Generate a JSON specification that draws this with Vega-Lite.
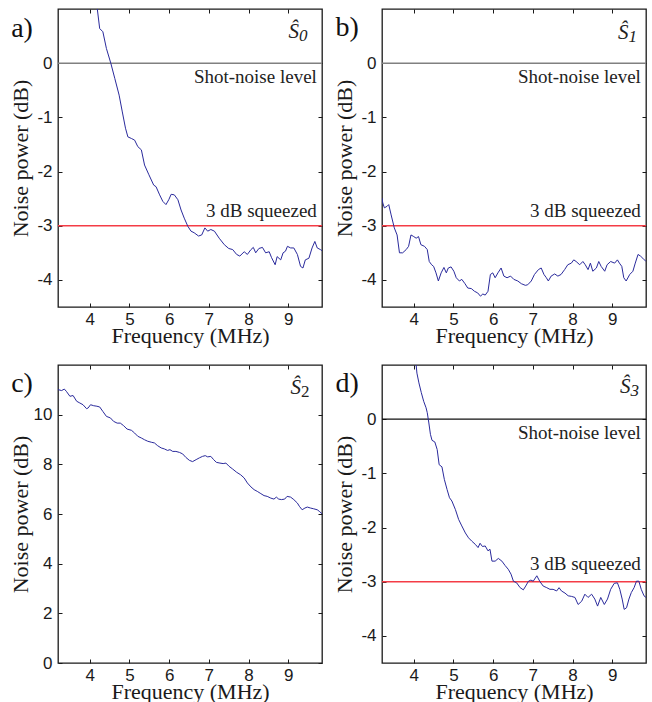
{
"$schema": "https://vega.github.io/schema/vega-lite/v6.json",
"padding": {"left": 8, "top": 7, "right": 3, "bottom": 0},
"background": "white",
"datasets": {
"a": [{"f":4.19,"v":1.0},{"f":4.25,"v":0.64},{"f":4.33,"v":0.58},{"f":4.42,"v":0.27},{"f":4.53,"v":0.0},{"f":4.63,"v":-0.28},{"f":4.74,"v":-0.59},{"f":4.82,"v":-0.9},{"f":4.9,"v":-1.2},{"f":4.96,"v":-1.36},{"f":5.05,"v":-1.39},{"f":5.13,"v":-1.42},{"f":5.21,"v":-1.54},{"f":5.3,"v":-1.6},{"f":5.38,"v":-1.88},{"f":5.49,"v":-2.06},{"f":5.61,"v":-2.25},{"f":5.67,"v":-2.28},{"f":5.76,"v":-2.43},{"f":5.84,"v":-2.55},{"f":5.92,"v":-2.61},{"f":5.99,"v":-2.52},{"f":6.05,"v":-2.42},{"f":6.13,"v":-2.43},{"f":6.22,"v":-2.52},{"f":6.3,"v":-2.71},{"f":6.38,"v":-2.86},{"f":6.47,"v":-3.01},{"f":6.55,"v":-3.1},{"f":6.63,"v":-3.13},{"f":6.74,"v":-3.19},{"f":6.82,"v":-3.17},{"f":6.9,"v":-3.04},{"f":6.97,"v":-3.1},{"f":7.05,"v":-3.07},{"f":7.14,"v":-3.1},{"f":7.26,"v":-3.23},{"f":7.39,"v":-3.35},{"f":7.5,"v":-3.42},{"f":7.6,"v":-3.44},{"f":7.7,"v":-3.53},{"f":7.78,"v":-3.56},{"f":7.89,"v":-3.48},{"f":7.97,"v":-3.53},{"f":8.06,"v":-3.44},{"f":8.12,"v":-3.4},{"f":8.18,"v":-3.5},{"f":8.26,"v":-3.42},{"f":8.35,"v":-3.4},{"f":8.43,"v":-3.5},{"f":8.52,"v":-3.48},{"f":8.58,"v":-3.59},{"f":8.67,"v":-3.72},{"f":8.72,"v":-3.57},{"f":8.81,"v":-3.63},{"f":8.87,"v":-3.5},{"f":8.93,"v":-3.47},{"f":8.98,"v":-3.38},{"f":9.06,"v":-3.41},{"f":9.14,"v":-3.41},{"f":9.23,"v":-3.53},{"f":9.31,"v":-3.75},{"f":9.37,"v":-3.78},{"f":9.43,"v":-3.63},{"f":9.52,"v":-3.6},{"f":9.6,"v":-3.41},{"f":9.67,"v":-3.29},{"f":9.73,"v":-3.41},{"f":9.81,"v":-3.44},{"f":9.85,"v":-3.46}],
"b": [{"f":3.2,"v":-2.49},{"f":3.22,"v":-2.58},{"f":3.26,"v":-2.67},{"f":3.33,"v":-2.64},{"f":3.37,"v":-2.61},{"f":3.43,"v":-2.8},{"f":3.51,"v":-3.04},{"f":3.58,"v":-3.17},{"f":3.64,"v":-3.5},{"f":3.72,"v":-3.5},{"f":3.81,"v":-3.44},{"f":3.87,"v":-3.38},{"f":3.93,"v":-3.17},{"f":4.0,"v":-3.2},{"f":4.06,"v":-3.23},{"f":4.12,"v":-3.2},{"f":4.18,"v":-3.35},{"f":4.27,"v":-3.38},{"f":4.34,"v":-3.44},{"f":4.39,"v":-3.66},{"f":4.45,"v":-3.72},{"f":4.5,"v":-3.75},{"f":4.56,"v":-3.87},{"f":4.62,"v":-4.02},{"f":4.69,"v":-3.87},{"f":4.76,"v":-3.77},{"f":4.82,"v":-3.87},{"f":4.87,"v":-3.78},{"f":4.94,"v":-3.76},{"f":5.01,"v":-3.84},{"f":5.07,"v":-3.96},{"f":5.15,"v":-4.02},{"f":5.21,"v":-3.99},{"f":5.29,"v":-4.07},{"f":5.36,"v":-4.15},{"f":5.45,"v":-4.16},{"f":5.53,"v":-4.21},{"f":5.61,"v":-4.24},{"f":5.68,"v":-4.3},{"f":5.74,"v":-4.26},{"f":5.8,"v":-4.28},{"f":5.87,"v":-4.21},{"f":5.93,"v":-3.9},{"f":5.99,"v":-3.87},{"f":6.05,"v":-3.96},{"f":6.12,"v":-3.87},{"f":6.2,"v":-3.78},{"f":6.27,"v":-3.93},{"f":6.35,"v":-3.96},{"f":6.44,"v":-3.93},{"f":6.52,"v":-3.99},{"f":6.62,"v":-4.02},{"f":6.71,"v":-4.07},{"f":6.81,"v":-4.1},{"f":6.87,"v":-4.09},{"f":6.96,"v":-4.02},{"f":7.04,"v":-3.9},{"f":7.14,"v":-3.81},{"f":7.21,"v":-3.78},{"f":7.28,"v":-3.9},{"f":7.34,"v":-3.96},{"f":7.39,"v":-4.02},{"f":7.46,"v":-3.93},{"f":7.55,"v":-3.89},{"f":7.63,"v":-3.93},{"f":7.71,"v":-3.9},{"f":7.8,"v":-3.81},{"f":7.88,"v":-3.72},{"f":7.97,"v":-3.69},{"f":8.03,"v":-3.63},{"f":8.09,"v":-3.66},{"f":8.18,"v":-3.72},{"f":8.26,"v":-3.66},{"f":8.32,"v":-3.72},{"f":8.39,"v":-3.81},{"f":8.45,"v":-3.69},{"f":8.51,"v":-3.84},{"f":8.6,"v":-3.78},{"f":8.66,"v":-3.66},{"f":8.72,"v":-3.75},{"f":8.81,"v":-3.84},{"f":8.87,"v":-3.72},{"f":8.96,"v":-3.66},{"f":9.06,"v":-3.69},{"f":9.13,"v":-3.63},{"f":9.18,"v":-3.69},{"f":9.24,"v":-3.75},{"f":9.29,"v":-3.96},{"f":9.35,"v":-4.02},{"f":9.44,"v":-3.9},{"f":9.52,"v":-3.84},{"f":9.58,"v":-3.69},{"f":9.65,"v":-3.53},{"f":9.71,"v":-3.56},{"f":9.77,"v":-3.6},{"f":9.85,"v":-3.66}],
"c": [{"f":3.2,"v":11.01},{"f":3.29,"v":10.97},{"f":3.36,"v":11.03},{"f":3.41,"v":10.94},{"f":3.5,"v":10.74},{"f":3.58,"v":10.77},{"f":3.67,"v":10.54},{"f":3.75,"v":10.47},{"f":3.83,"v":10.4},{"f":3.92,"v":10.24},{"f":3.96,"v":10.27},{"f":4.02,"v":10.4},{"f":4.1,"v":10.36},{"f":4.18,"v":10.34},{"f":4.25,"v":10.31},{"f":4.33,"v":10.13},{"f":4.42,"v":9.93},{"f":4.52,"v":9.87},{"f":4.6,"v":9.73},{"f":4.69,"v":9.66},{"f":4.77,"v":9.66},{"f":4.85,"v":9.56},{"f":4.94,"v":9.42},{"f":5.05,"v":9.37},{"f":5.13,"v":9.26},{"f":5.21,"v":9.13},{"f":5.3,"v":9.06},{"f":5.38,"v":8.99},{"f":5.46,"v":8.93},{"f":5.55,"v":8.89},{"f":5.63,"v":8.86},{"f":5.71,"v":8.75},{"f":5.8,"v":8.66},{"f":5.88,"v":8.62},{"f":5.96,"v":8.56},{"f":6.02,"v":8.59},{"f":6.09,"v":8.52},{"f":6.17,"v":8.52},{"f":6.26,"v":8.48},{"f":6.34,"v":8.42},{"f":6.42,"v":8.28},{"f":6.51,"v":8.16},{"f":6.59,"v":8.11},{"f":6.68,"v":8.19},{"f":6.76,"v":8.26},{"f":6.84,"v":8.32},{"f":6.91,"v":8.35},{"f":6.97,"v":8.3},{"f":7.05,"v":8.32},{"f":7.12,"v":8.19},{"f":7.19,"v":8.08},{"f":7.28,"v":8.05},{"f":7.36,"v":8.03},{"f":7.43,"v":8.05},{"f":7.51,"v":7.92},{"f":7.6,"v":7.81},{"f":7.7,"v":7.68},{"f":7.8,"v":7.58},{"f":7.89,"v":7.45},{"f":7.97,"v":7.25},{"f":8.06,"v":7.09},{"f":8.14,"v":6.98},{"f":8.22,"v":6.91},{"f":8.31,"v":6.82},{"f":8.39,"v":6.74},{"f":8.47,"v":6.71},{"f":8.56,"v":6.64},{"f":8.64,"v":6.6},{"f":8.7,"v":6.68},{"f":8.76,"v":6.6},{"f":8.83,"v":6.58},{"f":8.91,"v":6.6},{"f":8.97,"v":6.71},{"f":9.06,"v":6.68},{"f":9.14,"v":6.58},{"f":9.23,"v":6.44},{"f":9.28,"v":6.31},{"f":9.35,"v":6.17},{"f":9.42,"v":6.24},{"f":9.48,"v":6.28},{"f":9.56,"v":6.24},{"f":9.64,"v":6.21},{"f":9.73,"v":6.17},{"f":9.78,"v":6.11},{"f":9.85,"v":6.01}],
"d": [{"f":4.06,"v":1.0},{"f":4.08,"v":0.85},{"f":4.13,"v":0.67},{"f":4.19,"v":0.49},{"f":4.25,"v":0.33},{"f":4.31,"v":0.21},{"f":4.34,"v":0.12},{"f":4.38,"v":-0.07},{"f":4.42,"v":-0.28},{"f":4.46,"v":-0.39},{"f":4.53,"v":-0.42},{"f":4.59,"v":-0.56},{"f":4.64,"v":-0.84},{"f":4.71,"v":-0.88},{"f":4.77,"v":-1.11},{"f":4.84,"v":-1.3},{"f":4.9,"v":-1.45},{"f":4.96,"v":-1.51},{"f":5.05,"v":-1.67},{"f":5.13,"v":-1.85},{"f":5.21,"v":-1.97},{"f":5.3,"v":-2.1},{"f":5.38,"v":-2.19},{"f":5.46,"v":-2.25},{"f":5.55,"v":-2.31},{"f":5.62,"v":-2.37},{"f":5.67,"v":-2.29},{"f":5.73,"v":-2.35},{"f":5.8,"v":-2.34},{"f":5.87,"v":-2.43},{"f":5.92,"v":-2.4},{"f":5.97,"v":-2.62},{"f":6.05,"v":-2.62},{"f":6.13,"v":-2.57},{"f":6.22,"v":-2.62},{"f":6.3,"v":-2.7},{"f":6.38,"v":-2.77},{"f":6.45,"v":-2.86},{"f":6.51,"v":-2.99},{"f":6.59,"v":-3.02},{"f":6.68,"v":-3.11},{"f":6.76,"v":-3.15},{"f":6.82,"v":-3.08},{"f":6.89,"v":-2.99},{"f":6.95,"v":-2.97},{"f":7.01,"v":-2.99},{"f":7.1,"v":-2.89},{"f":7.18,"v":-3.0},{"f":7.26,"v":-3.08},{"f":7.35,"v":-3.11},{"f":7.43,"v":-3.14},{"f":7.51,"v":-3.14},{"f":7.6,"v":-3.17},{"f":7.66,"v":-3.11},{"f":7.72,"v":-3.17},{"f":7.81,"v":-3.21},{"f":7.89,"v":-3.26},{"f":7.97,"v":-3.27},{"f":8.06,"v":-3.29},{"f":8.14,"v":-3.42},{"f":8.23,"v":-3.36},{"f":8.31,"v":-3.23},{"f":8.39,"v":-3.29},{"f":8.48,"v":-3.23},{"f":8.56,"v":-3.32},{"f":8.63,"v":-3.45},{"f":8.71,"v":-3.29},{"f":8.8,"v":-3.42},{"f":8.88,"v":-3.32},{"f":8.96,"v":-3.14},{"f":9.05,"v":-3.03},{"f":9.13,"v":-3.02},{"f":9.19,"v":-3.14},{"f":9.25,"v":-3.32},{"f":9.3,"v":-3.51},{"f":9.36,"v":-3.48},{"f":9.42,"v":-3.32},{"f":9.48,"v":-3.2},{"f":9.55,"v":-3.11},{"f":9.61,"v":-2.99},{"f":9.67,"v":-2.99},{"f":9.73,"v":-3.14},{"f":9.8,"v":-3.26},{"f":9.85,"v":-3.29}]
},
"columns": 2,
"spacing": {"row": 58, "column": 60},
"bounds": "flush",
"concat": [
{
"width": 264, "height": 298,
"layer": [
{"data": {"values": [{}]}, "mark": {"type": "rule", "color": "#808080", "strokeWidth": 1.6}, "encoding": {"y": {"datum": 0, "type": "quantitative", "axis": null}}},
{"data": {"values": [{}]}, "mark": {"type": "rule", "color": "#f43c46", "strokeWidth": 1.6}, "encoding": {"y": {"datum": -3, "type": "quantitative", "axis": null}}},
{"data": {"name": "a"}, "mark": {"type": "line", "color": "#2a2a9c", "strokeWidth": 1, "clip": true},
 "encoding": {
  "x": {"field": "f", "type": "quantitative", "scale": {"domain": [3.2, 9.85], "nice": false, "zero": false}, "axis": {"orient": "bottom", "values": [4,5,6,7,8,9], "title": "Frequency (MHz)"}},
  "y": {"field": "v", "type": "quantitative", "scale": {"domain": [-4.5, 1], "nice": false, "zero": false}, "axis": {"orient": "left", "values": [-4,-3,-2,-1,0], "title": "Noise power (dB)", "titlePadding": 4}}}},
{"data": {"name": "a"}, "mark": {"type": "line", "opacity": 0},
 "encoding": {
  "x": {"field": "f", "type": "quantitative", "scale": {"domain": [3.2, 9.85], "nice": false, "zero": false}, "axis": {"orient": "top", "values": [4,5,6,7,8,9], "labels": false, "title": null}},
  "y": {"field": "v", "type": "quantitative", "scale": {"domain": [-4.5, 1], "nice": false, "zero": false}, "axis": {"orient": "right", "values": [-4,-3,-2,-1,0], "labels": false, "title": null}}}},
{"data": {"values": [{}]}, "mark": {"type": "text", "text": "Shot-noise level", "align": "right", "baseline": "alphabetic", "font": "Liberation Serif", "fontSize": 19, "color": "#222"}, "encoding": {"x": {"datum": 9.72, "type": "quantitative", "axis": null}, "y": {"datum": -0.37, "type": "quantitative", "axis": null}}},
{"data": {"values": [{}]}, "mark": {"type": "text", "text": "3 dB squeezed", "align": "right", "baseline": "alphabetic", "font": "Liberation Serif", "fontSize": 19, "color": "#222"}, "encoding": {"x": {"datum": 9.72, "type": "quantitative", "axis": null}, "y": {"datum": -2.83, "type": "quantitative", "axis": null}}},
{"data": {"values": [{}]}, "mark": {"type": "text", "text": "a)", "align": "left", "baseline": "alphabetic", "font": "Liberation Serif", "fontSize": 28, "color": "#111"}, "encoding": {"x": {"datum": 2.02, "type": "quantitative", "axis": null}, "y": {"datum": 0.49, "type": "quantitative", "axis": null}}},
{"data": {"values": [{}]}, "mark": {"type": "text", "text": "Ŝ", "align": "right", "baseline": "alphabetic", "font": "Liberation Serif", "fontStyle": "italic", "fontSize": 21, "color": "#222"}, "encoding": {"x": {"datum": 9.27, "type": "quantitative", "axis": null}, "y": {"datum": 0.47, "type": "quantitative", "axis": null}}},
{"data": {"values": [{}]}, "mark": {"type": "text", "text": "0", "align": "left", "baseline": "alphabetic", "dy": 3, "font": "Liberation Serif", "fontStyle": "italic", "fontSize": 17, "color": "#222"}, "encoding": {"x": {"datum": 9.27, "type": "quantitative", "axis": null}, "y": {"datum": 0.47, "type": "quantitative", "axis": null}}}
]
},
{
"width": 264, "height": 298,
"layer": [
{"data": {"values": [{}]}, "mark": {"type": "rule", "color": "#808080", "strokeWidth": 1.6}, "encoding": {"y": {"datum": 0, "type": "quantitative", "axis": null}}},
{"data": {"values": [{}]}, "mark": {"type": "rule", "color": "#f43c46", "strokeWidth": 1.6}, "encoding": {"y": {"datum": -3, "type": "quantitative", "axis": null}}},
{"data": {"name": "b"}, "mark": {"type": "line", "color": "#2a2a9c", "strokeWidth": 1, "clip": true},
 "encoding": {
  "x": {"field": "f", "type": "quantitative", "scale": {"domain": [3.2, 9.85], "nice": false, "zero": false}, "axis": {"orient": "bottom", "values": [4,5,6,7,8,9], "title": "Frequency (MHz)"}},
  "y": {"field": "v", "type": "quantitative", "scale": {"domain": [-4.5, 1], "nice": false, "zero": false}, "axis": {"orient": "left", "values": [-4,-3,-2,-1,0], "title": "Noise power (dB)", "titlePadding": 4}}}},
{"data": {"name": "b"}, "mark": {"type": "line", "opacity": 0},
 "encoding": {
  "x": {"field": "f", "type": "quantitative", "scale": {"domain": [3.2, 9.85], "nice": false, "zero": false}, "axis": {"orient": "top", "values": [4,5,6,7,8,9], "labels": false, "title": null}},
  "y": {"field": "v", "type": "quantitative", "scale": {"domain": [-4.5, 1], "nice": false, "zero": false}, "axis": {"orient": "right", "values": [-4,-3,-2,-1,0], "labels": false, "title": null}}}},
{"data": {"values": [{}]}, "mark": {"type": "text", "text": "Shot-noise level", "align": "right", "baseline": "alphabetic", "font": "Liberation Serif", "fontSize": 19, "color": "#222"}, "encoding": {"x": {"datum": 9.72, "type": "quantitative", "axis": null}, "y": {"datum": -0.37, "type": "quantitative", "axis": null}}},
{"data": {"values": [{}]}, "mark": {"type": "text", "text": "3 dB squeezed", "align": "right", "baseline": "alphabetic", "font": "Liberation Serif", "fontSize": 19, "color": "#222"}, "encoding": {"x": {"datum": 9.72, "type": "quantitative", "axis": null}, "y": {"datum": -2.83, "type": "quantitative", "axis": null}}},
{"data": {"values": [{}]}, "mark": {"type": "text", "text": "b)", "align": "left", "baseline": "alphabetic", "font": "Liberation Serif", "fontSize": 28, "color": "#111"}, "encoding": {"x": {"datum": 2.03, "type": "quantitative", "axis": null}, "y": {"datum": 0.5, "type": "quantitative", "axis": null}}},
{"data": {"values": [{}]}, "mark": {"type": "text", "text": "Ŝ", "align": "right", "baseline": "alphabetic", "font": "Liberation Serif", "fontStyle": "italic", "fontSize": 21, "color": "#222"}, "encoding": {"x": {"datum": 9.41, "type": "quantitative", "axis": null}, "y": {"datum": 0.45, "type": "quantitative", "axis": null}}},
{"data": {"values": [{}]}, "mark": {"type": "text", "text": "1", "align": "left", "baseline": "alphabetic", "dy": 3, "font": "Liberation Serif", "fontStyle": "italic", "fontSize": 17, "color": "#222"}, "encoding": {"x": {"datum": 9.41, "type": "quantitative", "axis": null}, "y": {"datum": 0.45, "type": "quantitative", "axis": null}}}
]
},
{
"width": 264, "height": 298,
"layer": [
{"data": {"name": "c"}, "mark": {"type": "line", "color": "#2a2a9c", "strokeWidth": 1, "clip": true},
 "encoding": {
  "x": {"field": "f", "type": "quantitative", "scale": {"domain": [3.2, 9.85], "nice": false, "zero": false}, "axis": {"orient": "bottom", "values": [4,5,6,7,8,9], "title": "Frequency (MHz)"}},
  "y": {"field": "v", "type": "quantitative", "scale": {"domain": [0, 12], "nice": false, "zero": false}, "axis": {"orient": "left", "values": [0,2,4,6,8,10], "title": "Noise power (dB)", "titlePadding": 1}}}},
{"data": {"name": "c"}, "mark": {"type": "line", "opacity": 0},
 "encoding": {
  "x": {"field": "f", "type": "quantitative", "scale": {"domain": [3.2, 9.85], "nice": false, "zero": false}, "axis": {"orient": "top", "values": [4,5,6,7,8,9], "labels": false, "title": null}},
  "y": {"field": "v", "type": "quantitative", "scale": {"domain": [0, 12], "nice": false, "zero": false}, "axis": {"orient": "right", "values": [0,2,4,6,8,10], "labels": false, "title": null}}}},
{"data": {"values": [{}]}, "mark": {"type": "text", "text": "c)", "align": "left", "baseline": "alphabetic", "font": "Liberation Serif", "fontSize": 28, "color": "#111"}, "encoding": {"x": {"datum": 2.02, "type": "quantitative", "axis": null}, "y": {"datum": 10.9, "type": "quantitative", "axis": null}}},
{"data": {"values": [{}]}, "mark": {"type": "text", "text": "Ŝ", "align": "right", "baseline": "alphabetic", "font": "Liberation Serif", "fontStyle": "italic", "fontSize": 21, "color": "#222"}, "encoding": {"x": {"datum": 9.32, "type": "quantitative", "axis": null}, "y": {"datum": 10.83, "type": "quantitative", "axis": null}}},
{"data": {"values": [{}]}, "mark": {"type": "text", "text": "2", "align": "left", "baseline": "alphabetic", "dy": 3, "font": "Liberation Serif", "fontSize": 17, "color": "#222"}, "encoding": {"x": {"datum": 9.32, "type": "quantitative", "axis": null}, "y": {"datum": 10.83, "type": "quantitative", "axis": null}}}
]
},
{
"width": 264, "height": 298,
"layer": [
{"data": {"values": [{}]}, "mark": {"type": "rule", "color": "#111111", "strokeWidth": 1.2}, "encoding": {"y": {"datum": 0, "type": "quantitative", "axis": null}}},
{"data": {"values": [{}]}, "mark": {"type": "rule", "color": "#f43c46", "strokeWidth": 1.6}, "encoding": {"y": {"datum": -3, "type": "quantitative", "axis": null}}},
{"data": {"name": "d"}, "mark": {"type": "line", "color": "#2a2a9c", "strokeWidth": 1, "clip": true},
 "encoding": {
  "x": {"field": "f", "type": "quantitative", "scale": {"domain": [3.2, 9.85], "nice": false, "zero": false}, "axis": {"orient": "bottom", "values": [4,5,6,7,8,9], "title": "Frequency (MHz)"}},
  "y": {"field": "v", "type": "quantitative", "scale": {"domain": [-4.5, 1], "nice": false, "zero": false}, "axis": {"orient": "left", "values": [-4,-3,-2,-1,0], "title": "Noise power (dB)", "titlePadding": 4}}}},
{"data": {"name": "d"}, "mark": {"type": "line", "opacity": 0},
 "encoding": {
  "x": {"field": "f", "type": "quantitative", "scale": {"domain": [3.2, 9.85], "nice": false, "zero": false}, "axis": {"orient": "top", "values": [4,5,6,7,8,9], "labels": false, "title": null}},
  "y": {"field": "v", "type": "quantitative", "scale": {"domain": [-4.5, 1], "nice": false, "zero": false}, "axis": {"orient": "right", "values": [-4,-3,-2,-1,0], "labels": false, "title": null}}}},
{"data": {"values": [{}]}, "mark": {"type": "text", "text": "Shot-noise level", "align": "right", "baseline": "alphabetic", "font": "Liberation Serif", "fontSize": 19, "color": "#222"}, "encoding": {"x": {"datum": 9.72, "type": "quantitative", "axis": null}, "y": {"datum": -0.37, "type": "quantitative", "axis": null}}},
{"data": {"values": [{}]}, "mark": {"type": "text", "text": "3 dB squeezed", "align": "right", "baseline": "alphabetic", "font": "Liberation Serif", "fontSize": 19, "color": "#222"}, "encoding": {"x": {"datum": 9.72, "type": "quantitative", "axis": null}, "y": {"datum": -2.78, "type": "quantitative", "axis": null}}},
{"data": {"values": [{}]}, "mark": {"type": "text", "text": "d)", "align": "left", "baseline": "alphabetic", "font": "Liberation Serif", "fontSize": 28, "color": "#111"}, "encoding": {"x": {"datum": 2.03, "type": "quantitative", "axis": null}, "y": {"datum": 0.5, "type": "quantitative", "axis": null}}},
{"data": {"values": [{}]}, "mark": {"type": "text", "text": "Ŝ", "align": "right", "baseline": "alphabetic", "font": "Liberation Serif", "fontStyle": "italic", "fontSize": 21, "color": "#222"}, "encoding": {"x": {"datum": 9.46, "type": "quantitative", "axis": null}, "y": {"datum": 0.48, "type": "quantitative", "axis": null}}},
{"data": {"values": [{}]}, "mark": {"type": "text", "text": "3", "align": "left", "baseline": "alphabetic", "dy": 3, "font": "Liberation Serif", "fontStyle": "italic", "fontSize": 17, "color": "#222"}, "encoding": {"x": {"datum": 9.46, "type": "quantitative", "axis": null}, "y": {"datum": 0.48, "type": "quantitative", "axis": null}}}
]
}
],
"config": {
 "view": {"stroke": "#1a1a1a", "strokeWidth": 1.3},
 "axis": {"grid": false, "domain": false, "ticks": true, "tickColor": "#1a1a1a", "tickSize": -4, "tickWidth": 1, "labelFont": "Liberation Sans", "labelFontSize": 17, "labelColor": "#1a1a1a", "labelExpr": "'' + datum.value", "titleFont": "Liberation Serif", "titleFontSize": 22, "titleFontWeight": "normal", "titleColor": "#1a1a1a"},
 "axisX": {"labelPadding": 8, "titlePadding": -2},
 "axisY": {"labelPadding": 10}
}
}
